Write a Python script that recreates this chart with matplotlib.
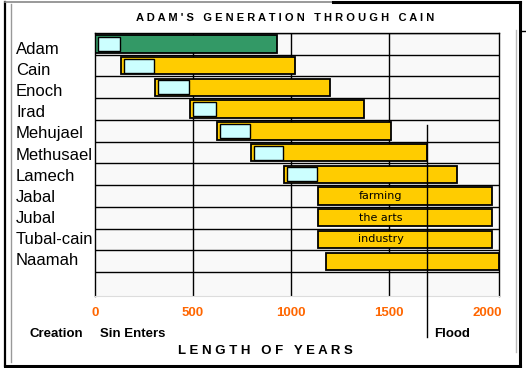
import matplotlib
matplotlib.use("Agg")
import matplotlib.pyplot as plt
from matplotlib.patches import Rectangle
from matplotlib.lines import Line2D
from matplotlib.transforms import blended_transform_factory

# ---- data ----
names = ["Adam", "Cain", "Enoch", "Irad", "Mehujael", "Methusael", "Lamech",
         "Jabal", "Jubal", "Tubal-cain", "Naamah"]
born = [0, 133, 306, 484, 622, 795, 964, 1137, 1137, 1137, 1178]
died = [930, 1020, 1198, 1372, 1509, 1693, 1846, 2024, 2024, 2024, 2060]
activities = ["", "", "", "", "", "", "", "farming", "the arts", "industry", ""]
flood_year = 1693
tick_years = [0, 500, 1000, 1500, 2000]
tick_labels = ["0", "500", "1000", "1500", "2000"]
grid_years = [500, 1000, 1500]
title = "A D A M ' S   G E N E R A T I O N   T H R O U G H   C A I N"
xlabel = "L E N G T H   O F   Y E A R S"

GREEN = "#339966"
YELLOW = "#ffcc00"
CYAN = "#ccffff"
ORANGE = "#ff6600"

W, H = 526, 368
fig = plt.figure(figsize=(W / 100, H / 100), dpi=100, facecolor="white")
ax = fig.add_axes([95 / W, 1 - 296 / H, (499 - 95) / W, (296 - 33) / H])
ax.set_facecolor("#f9f9f9")

n = len(names)
# row separators
for k in range(n + 1):
    ax.axhline(k - 0.5, color="black", lw=1.0, zorder=1)
for g in grid_years:
    ax.axvline(g, color="black", lw=1.0, zorder=1)

# bars
colors = [GREEN] + [YELLOW] * (n - 1)
ax.barh(range(n), [d - b for b, d in zip(born, died)], left=born, height=0.8,
        color=colors, edgecolor="black", linewidth=1.3, zorder=2)

# cyan boxes: period until next generation is born
for i in range(7):
    x0 = born[i] + 14
    x1 = born[i + 1] - 4
    ax.add_patch(Rectangle((x0, i - 0.32), x1 - x0, 0.64, facecolor=CYAN,
                           edgecolor="black", linewidth=1.0, zorder=3))

# activity texts
for i, a in enumerate(activities):
    if a:
        ax.text(born[i] + 0.36 * (died[i] - born[i]), i, a, ha="center", va="center",
                fontsize=8, family="DejaVu Sans", color="black", zorder=4)

# flood line
ax.plot([flood_year, flood_year], [3.73, 13.5], color="black", lw=1.0,
        clip_on=False, zorder=5)

ax.set_xlim(0, 2060)
ax.set_ylim(11.6, -0.5)
ax.set_yticks([])
ax.set_xticks(tick_years)
ax.set_xticklabels(tick_labels, color=ORANGE, fontweight="bold", fontsize=9.5,
                   family="Liberation Sans")
ax.tick_params(axis="x", length=0, pad=8)
for s in ["top", "left", "right"]:
    ax.spines[s].set_color("black")
    ax.spines[s].set_linewidth(1.0)
ax.spines["bottom"].set_color("#dddddd")

# row labels
tr = blended_transform_factory(fig.transFigure, ax.transData)
for i, nm in enumerate(names):
    ax.text(16 / W, 0.968 * i + 0.48, nm, transform=tr, ha="left", va="baseline",
            fontsize=12, family="Liberation Sans", color="black")

# title and bottom labels
fig.text(285 / W, 1 - 21 / H, title, ha="center", va="baseline", fontsize=8,
         fontweight="bold", family="Liberation Sans")
fig.text(265 / W, 1 - 354 / H, xlabel, ha="center", va="baseline", fontsize=9.5,
         fontweight="bold", family="Liberation Sans")
fig.text(29 / W, 1 - 337 / H, "Creation", ha="left", va="baseline", fontsize=9.5,
         fontweight="bold", family="Liberation Sans")
fig.text(100 / W, 1 - 337 / H, "Sin Enters", ha="left", va="baseline", fontsize=9.5,
         fontweight="bold", family="Liberation Sans")
fig.text(434 / W, 1 - 337 / H, "Flood", ha="left", va="baseline", fontsize=9.5,
         fontweight="bold", family="Liberation Sans")

# outer frame
def fline(xs, ys, **kw):
    fig.add_artist(Line2D([x / W for x in xs], [1 - y / H for y in ys], **kw))

fline([4.5, 4.5], [1.5, 366], color="black", lw=1.6)
fline([520, 520], [1.5, 366], color="black", lw=2.2)
fline([4.5, 520], [366, 366], color="black", lw=2.2)
fline([4.5, 333], [1.5, 1.5], color="#888888", lw=1.2)
fline([333, 520], [1.5, 1.5], color="black", lw=2.2)
fline([10.5, 10.5], [4, 362], color="#999999", lw=1.0)
fline([516, 516], [30, 352], color="#bbbbbb", lw=1.0)
fline([520, 526], [31, 31], color="black", lw=1.0)

fig.savefig("out.png", dpi=100, facecolor="white")
